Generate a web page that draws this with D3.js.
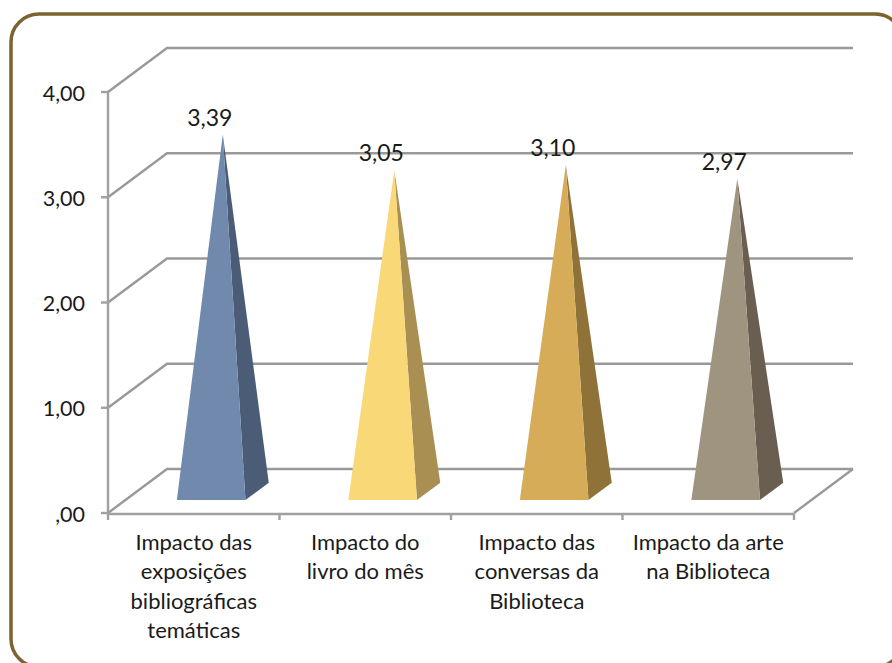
<!DOCTYPE html>
<html><head><meta charset="utf-8">
<script src="https://cdn.jsdelivr.net/npm/d3@7"></script>
<style>html,body{margin:0;padding:0;background:#fff}svg{display:block}text{font-family:Lato,"Open Sans",sans-serif;fill:#1a1a1a}</style>
</head><body><svg id="c" width="892" height="663"></svg>
<script>
const categories = ["Impacto das exposições bibliográficas temáticas","Impacto do livro do mês","Impacto das conversas da Biblioteca","Impacto da arte na Biblioteca"];
const categoryLines = [["Impacto das","exposições","bibliográficas","temáticas"],["Impacto do","livro do mês"],["Impacto das","conversas da","Biblioteca"],["Impacto da arte","na Biblioteca"]];
const values = [3.39,3.05,3.10,2.97];
const valueLabels = ["3,39","3,05","3,10","2,97"];
const tickValues = [0,1,2,3,4];
const tickLabels = [",00","1,00","2,00","3,00","4,00"];
const frontColors = ["#7089ad","#f9d877","#d6ac58","#9e947f"];
const sideColors = ["#4a5c76","#a98f52","#8e7238","#6a5e50"];

const svg = d3.select("#c");
const x = d3.scaleBand().domain(d3.range(categories.length)).range([108,794]).paddingInner(0).paddingOuter(0);
const y = d3.scaleLinear().domain([0,4]).range([513,92]);
const dx = d3.scaleLinear().domain([0,1]).range([0,59]);
const dy = d3.scaleLinear().domain([0,1]).range([0,-44]);
const P = (px,v,d)=>[px+dx(d), y(v)+dy(d)];
const line = d3.line();

svg.append("rect").attr("x",11).attr("y",14).attr("width",892).attr("height",653).attr("rx",28).attr("ry",28)
  .attr("fill","#fff").attr("stroke","#7d6330").attr("stroke-width",3.5);

const grid = svg.append("g").attr("fill","none").attr("stroke","#999").attr("stroke-width",2.4);
tickValues.forEach(t=>{
  grid.append("path").attr("d",line([P(108,t,0),P(108,t,1),P(794,t,1)]));
});
grid.append("path").attr("d",line([P(794,0,0),P(794,0,1)]));
const ax = svg.append("g").attr("stroke","#a0a0a0").attr("stroke-width",2.4).attr("fill","none");
ax.append("path").attr("d",line([[108,y(4)],[108,y(0)+1]]));
ax.append("path").attr("d",line([[108,y(0)+1],[794,y(0)+1]]));
tickValues.forEach(t=>ax.append("path").attr("d",line([[101,y(t)],[108,y(t)]])));
d3.range(categories.length+1).forEach(i=>{
  const px = i<categories.length? x(i): 794;
  ax.append("path").attr("d",line([[px,y(0)],[px,y(0)+7]]));
});
tickValues.forEach((t,i)=>svg.append("text").attr("x",85).attr("y",y(t)+8.5).attr("text-anchor","end").attr("font-size",21.5).text(tickLabels[i]));

const zNear=0.295, zFar=0.69, zMid=(zNear+zFar)/2, baseFrac=0.2;
values.forEach((v,i)=>{
  const cx = x(i)+x.bandwidth()/2;
  const hw = x.bandwidth()*baseFrac;
  const a = P(cx-hw,0,zNear), b = P(cx+hw,0,zNear), c = P(cx+hw,0,zFar), apex = P(cx,v,zMid);
  svg.append("path").attr("d",line([b,c,apex])+"Z").attr("fill",sideColors[i]);
  svg.append("path").attr("d",line([a,b,apex])+"Z").attr("fill",frontColors[i]);
  svg.append("text").attr("x",apex[0]-13).attr("y",apex[1]-9).attr("text-anchor","middle").attr("font-size",23).text(valueLabels[i]);
  categoryLines[i].forEach((l,j)=>svg.append("text").attr("x",x(i)+x.bandwidth()/2).attr("y",550+j*29.3).attr("text-anchor","middle").attr("font-size",22).text(l));
});
</script></body></html>
